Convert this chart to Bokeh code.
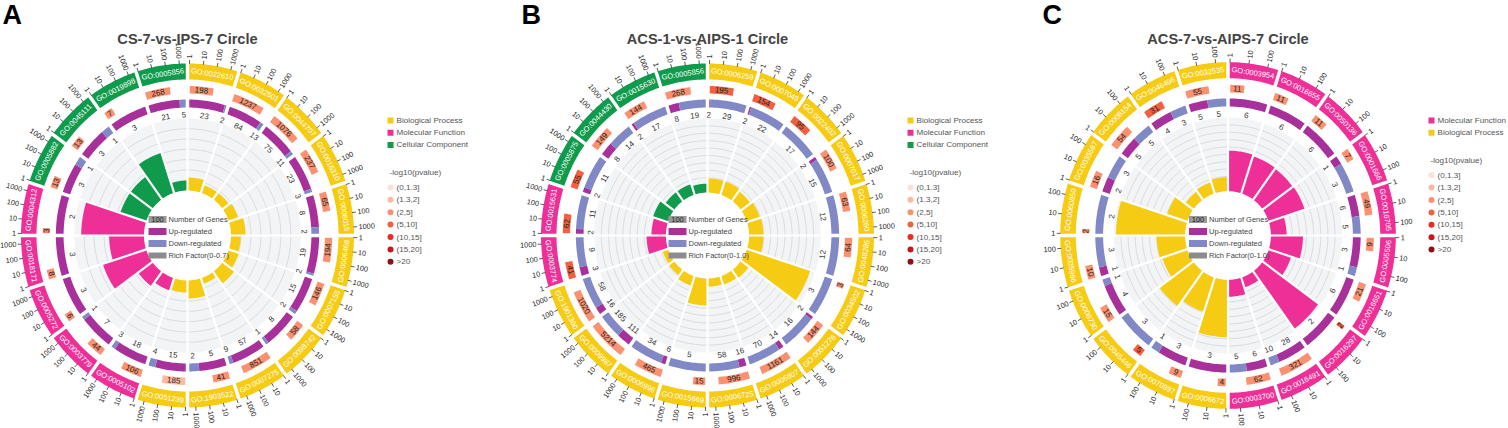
import math
from bokeh.plotting import figure
from bokeh.core.properties import value
from bokeh.embed import file_html
from bokeh.resources import INLINE

# ---------- data ----------
A_terms = ["GO:0022610","GO:0032501","GO:0044707","GO:0016310","GO:0008015","GO:0006468","GO:0007155","GO:0098742","GO:0007275","GO:1903522",
           "GO:0051239","GO:0005102","GO:0003779","GO:0005272","GO:0018171","GO:0004312","GO:0005882","GO:0045111","GO:0019898","GO:0005856"]
A_class = ["BP"]*11 + ["MF"]*5 + ["CC"]*4
A_genes = [198,1237,1076,237,65,194,146,58,851,41,185,106,44,6,8,3,13,13,7,268]
A_up    = [23,84,75,23,8,19,15,8,57,5,15,18,7,3,3,2,3,3,3,21]
A_down  = [2,13,11,3,2,2,2,1,9,2,4,3,1,0,0,0,1,1,0,5]
A_rich  = [.126,.078,.078,.10,.146,.097,.107,.146,.058,.175,.117,.126,.175,.457,.35,.63,.272,.272,.409,.097]
A_bin   = [2,2,2,2,2,2,2,2,2,2,1,2,2,2,2,2,2,2,2,2]

B_terms = ["GO:0006259","GO:0007049","GO:0022402","GO:0007017","GO:0006260","GO:0048285","GO:0034502","GO:0051276","GO:0006807","GO:0006725",
           "GO:0015669","GO:0006996","GO:0009987","GO:1901360","GO:0003774","GO:0015631","GO:0005875","GO:0044430","GO:0015630","GO:0005856"]
B_class = ["BP"]*14 + ["MF"]*2 + ["CC"]*4
B_genes = [195,154,95,100,63,64,3,144,1161,996,15,465,5214,1020,41,62,55,149,144,268]
B_up    = [2,2,0,2,0,0,0,2,14,16,0,6,111,16,3,2,2,8,2,8]
B_down  = [29,22,17,15,12,12,3,16,70,58,5,34,185,58,9,11,11,14,17,19]
B_rich  = [.19,.19,.16,.19,.20,.20,.93,.135,.12,.11,.365,.135,.09,.08,.27,.20,.22,.15,.15,.12]
B_bin   = [3,3,3,2,2,2,2,2,2,2,2,2,2,2,3,3,3,2,2,2]

C_terms = ["GO:0003954","GO:0016655","GO:0050136","GO:0001666","GO:0016705","GO:0005506","GO:0016651","GO:0016297","GO:0016491","GO:0003700",
           "GO:0006672","GO:0070997","GO:0045446","GO:0006730","GO:0035966","GO:0060850","GO:0035587","GO:0008154","GO:0046496","GO:0032535"]
C_class = ["MF"]*10 + ["BP"]*10
C_genes = [11,11,11,7,49,9,21,2,321,62,4,9,5,15,10,2,16,54,31,55]
C_up    = [6,6,6,1,6,3,6,2,28,6,3,3,0,4,1,0,2,5,4,5]
C_down  = [0,0,0,3,5,1,0,0,10,5,0,1,3,1,3,2,3,5,3,5]
C_rich  = [.55,.53,.52,.53,.22,.45,.33,.97,.14,.23,.78,.49,.59,.37,.40,.97,.30,.14,.16,.19]
C_bin   = [2,2,2,2,2,2,2,3,2,2,2,2,3,2,2,2,2,2,3,2]

pvalue_labels = ["(0,1.3]","(1.3,2]","(2,5]","(5,10]","(10,15]","(15,20]",">20"]
class_names = {"BP":"Biological Process","MF":"Molecular Function","CC":"Cellular Component"}
A_legend = ["BP","MF","CC"]; B_legend = ["BP","MF","CC"]; C_legend = ["MF","BP"]
A_ticks = [1,10,100,1000]; B_ticks = [1,10,100,1000]; C_ticks = [1,10,100]

# ---------- styles ----------
FONT = value("Liberation Sans")
CLASS_COL = {"BP":"#f6cb13","MF":"#ee2f97","CC":"#0f9b4b"}
BIN_COL = ["#fbe0d8","#fbb9a0","#fb9170","#f4603f","#ee2a25","#c7161f","#900f16"]
UP, DOWN = "#a8309b", "#8089c6"
H = 428
SX = 0.968   # the rings are slightly narrower than they are tall

p = figure(width=1508, height=428, x_range=(0,1508/SX), y_range=(0,428), toolbar_location=None,
           output_backend="svg", min_border=0, outline_line_color=None)
p.xaxis.visible = False; p.yaxis.visible = False; p.grid.visible = False

def X(px):
    return px/SX
def m(t):  # clock degrees to math radians
    return math.radians(90 - t)
def pol(cx, cy, r, t):
    return X(cx) + r*math.cos(m(t)), (H-cy) + r*math.sin(m(t))
def rot(t):
    t %= 360
    return -math.radians(t) if (t < 90 or t > 270) else math.radians(180 - t)

def label(xs, ys, txt, size, color, align="center", angle=0.0, style="normal", baseline="middle"):
    p.text(x=xs, y=ys, text=txt, angle=angle, text_font=FONT, text_font_size=size, text_color=color,
           text_align=align, text_baseline=baseline, text_font_style=style)

def arc_pts(cx, cy, r, a, b):
    k = max(2, int(abs(b-a)/1.0)+1)
    ts = [a+(b-a)*i/k for i in range(k+1)]
    pts = [pol(cx,cy,r,t) for t in ts]
    return [q[0] for q in pts], [q[1] for q in pts]

def wedge(cx, cy, r0, r1, a, b, col):
    x1,y1 = arc_pts(cx,cy,r1,a,b); x0,y0 = arc_pts(cx,cy,r0,b,a)
    p.patch(x1+x0, y1+y0, color=col, line_color=None)

def panel(cx, cy, g, title, letter, letter_x, terms, cls, genes, up, down, rich, bins, ticks, tick_dec, gene_dec, rmax, rin, legend, leg_x, leg_y0):
    n = len(terms); step = 360/n
    starts = [i*step for i in range(n)]; ends = [s+step for s in starts]
    R_IN_T, R_OUT_T = rin*g, 117*g
    # rich track background, grid
    wedge(cx, cy, R_IN_T, R_OUT_T, 0, 360, "#f3f4f6")
    k = 1
    gx, gy = [], []
    while k*0.1 < rmax - 1e-6:
        xx,yy = arc_pts(cx,cy,R_IN_T + (R_OUT_T-R_IN_T)*k*0.1/rmax,0,360)
        gx.append(xx); gy.append(yy); k += 1
    p.multi_line(gx, gy, line_color="#d9dadd", line_width=1)
    # rich bars
    for i in range(n):
        wedge(cx, cy, R_IN_T, R_IN_T+(R_OUT_T-R_IN_T)*rich[i]/rmax, starts[i], ends[i], CLASS_COL[cls[i]])
    # up/down ring
    for i in range(n):
        f = up[i]/(up[i]+down[i]); mid = starts[i]+f*step
        a = (starts[i]+mid)/2; b = (mid+ends[i])/2
        if up[i]:
            wedge(cx, cy, 128*g, 136*g, starts[i], mid, UP)
            x,y = pol(cx,cy,120.5*g,a); label([x],[y],[str(up[i])],"8px","#333",angle=rot(a))
        if down[i]:
            wedge(cx, cy, 128*g, 136*g, mid, ends[i], DOWN)
            x,y = pol(cx,cy,120.5*g,b); label([x],[y],[str(down[i])],"8px","#333",angle=rot(b))
    # number of genes ring
    for i in range(n):
        t1 = starts[i]+0.9+(step-1.8)*math.log10(genes[i])/gene_dec
        wedge(cx, cy, 142*g, 149.5*g, starts[i]+0.9, t1, BIN_COL[bins[i]])
        a = (starts[i]+0.9+t1)/2
        x,y = pol(cx,cy,145.7*g,a); label([x],[y],[str(genes[i])],"8px","#222",angle=rot(a))
    # outer ring
    for i in range(n):
        wedge(cx, cy, 156*g, 172*g, starts[i], ends[i], CLASS_COL[cls[i]])
        a = starts[i]+step/2
        x,y = pol(cx,cy,163.5*g,a); label([x],[y],[terms[i]],"7.5px","#ffffff",angle=rot(a))
    # separators
    sx0,sy0,sx1,sy1,tx0,ty0,tx1,ty1 = [],[],[],[],[],[],[],[]
    for s in starts:
        a,b = pol(cx,cy,R_IN_T-1,s); c,d = pol(cx,cy,R_OUT_T+.5,s)
        sx0.append(a);sy0.append(b);sx1.append(c);sy1.append(d)
        a,b = pol(cx,cy,126*g,s); c,d = pol(cx,cy,173*g,s)
        tx0.append(a);ty0.append(b);tx1.append(c);ty1.append(d)
    p.segment(sx0,sy0,sx1,sy1,line_color="#ffffff",line_width=2.2)
    p.segment(tx0,ty0,tx1,ty1,line_color="#ffffff",line_width=3.5)
    # ticks
    for i in range(n):
        for v in ticks:
            t = starts[i]+0.7+(step-1.4)*math.log10(v)/tick_dec
            a,b = pol(cx,cy,171.5*g,t); c,d = pol(cx,cy,175.5*g,t)
            p.segment([a],[b],[c],[d],line_color="#333",line_width=0.8)
            x,y = pol(cx,cy,177*g,t)
            ang = math.radians(90-t) if t < 180 else math.radians(270-t)
            label([x],[y],[str(v)],"7.3px","#222",align="left" if t<180 else "right",angle=ang)
    # center legend
    rows = [("#9a9a9a","Number of Genes",-16),(UP,"Up-regulated",-4),(DOWN,"Down-regulated",8),("#8c8c8c",f"Rich Factor(0-{rmax:.1f})",20)]
    for col,txt,dy in rows:
        hh = 3 if dy==20 else 3.5
        p.quad(left=[X(cx-39)],right=[X(cx-21)],top=[H-(cy+dy)+hh],bottom=[H-(cy+dy)-hh],color=col,line_color=None)
        label([X(cx-19)],[H-(cy+dy)],[txt],"7.5px","#444",align="left")
    label([X(cx-30)],[H-(cy-16)],["100"],"7.5px","#222")
    # title and letter
    label([X(cx)],[H-38],[title],"14.6px","#444",style="bold")
    label([X(letter_x)],[H-14],[letter],"27px","#000",align="left",style="bold")
    # side legend
    y = leg_y0
    for c in legend:
        p.quad(left=[X(leg_x)],right=[X(leg_x+6)],top=[H-y+3],bottom=[H-y-3],color=CLASS_COL[c],line_color=None)
        label([X(leg_x+9)],[H-y],[class_names[c]],"8.1px","#555",align="left")
        y += 12.2
    y += 15.5
    label([X(leg_x+2)],[H-y],["-log10(pvalue)"],"8.1px","#555",align="left")
    y += 14.8
    for k,t in enumerate(pvalue_labels):
        p.scatter(x=[X(leg_x+3)],y=[H-y],size=6,color=BIN_COL[k],line_color=None)
        label([X(leg_x+9)],[H-y],[t],"8.1px","#555",align="left")
        y += 12.4

panel(187,235,1.0,"CS-7-vs-IPS-7 Circle","A",2,A_terms,A_class,A_genes,A_up,A_down,A_rich,A_bin,A_ticks,3.45,3.9,0.7,45,A_legend,387,120)
panel(707,235,1.0,"ACS-1-vs-AIPS-1 Circle","B",521,B_terms,B_class,B_genes,B_up,B_down,B_rich,B_bin,B_ticks,3.45,3.85,1.0,43,B_legend,907,120)
panel(1227.5,235,1.008,"ACS-7-vs-AIPS-7 Circle","C",1042,C_terms,C_class,C_genes,C_up,C_down,C_rich,C_bin,C_ticks,2.55,3.0,1.0,44,C_legend,1428,120)

open("out.html","w").write(file_html(p, INLINE))
